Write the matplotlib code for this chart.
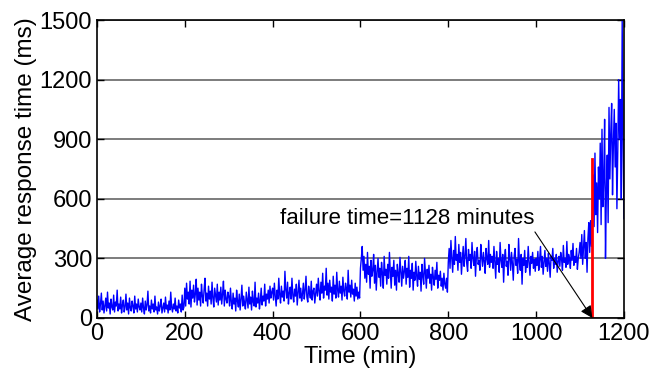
import numpy as np
import matplotlib.pyplot as plt

plt.rcParams['font.family'] = ['Liberation Sans', 'DejaVu Sans']

# average response time (ms), one value every 2 minutes
rt_0_100 = [90, 45, 110, 30, 70, 125, 40, 85, 25, 60,
            100, 35, 130, 50, 75, 20, 95, 55, 40, 115,
            30, 80, 60, 140, 35, 70, 45, 105, 25, 65,
            90, 30, 55, 120, 40, 75, 20, 100, 50, 35,
            85, 60, 25, 110, 45, 70, 30, 95, 55, 40]
rt_100_200 = [75, 30, 100, 50, 20, 85, 40, 65, 135, 35,
              60, 25, 90, 45, 70, 30, 110, 40, 55, 20,
              80, 35, 60, 95, 25, 50, 75, 30, 105, 45,
              65, 25, 85, 40, 130, 55, 30, 70, 45, 100,
              35, 60, 25, 90, 50, 70, 30, 115, 40, 55]
rt_200_300 = [150, 60, 175, 95, 130, 70, 185, 55, 140, 100,
              165, 80, 120, 195, 65, 150, 90, 130, 60, 170,
              110, 75, 145, 200, 85, 125, 60, 160, 95, 135,
              70, 180, 100, 55, 150, 115, 80, 170, 65, 130,
              90, 155, 70, 120, 185, 60, 140, 95, 75, 130]
rt_300_400 = [110, 60, 150, 80, 45, 125, 70, 100, 35, 140,
              85, 55, 120, 40, 95, 165, 60, 110, 75, 45,
              130, 90, 50, 155, 70, 105, 40, 135, 80, 60,
              180, 55, 100, 75, 125, 45, 90, 150, 65, 110,
              85, 170, 60, 120, 95, 140, 75, 160, 100, 130]
rt_400_500 = [150, 90, 175, 110, 60, 140, 95, 200, 120, 75,
              160, 105, 135, 85, 235, 140, 100, 180, 70, 125,
              155, 95, 200, 115, 80, 145, 110, 170, 65, 130,
              190, 100, 150, 85, 120, 175, 95, 140, 210, 105,
              80, 160, 125, 100, 185, 90, 135, 150, 75, 120]
rt_500_600 = [170, 110, 200, 135, 90, 180, 125, 225, 100, 160,
              140, 250, 115, 175, 95, 190, 130, 155, 85, 210,
              120, 165, 100, 230, 140, 105, 185, 125, 160, 90,
              205, 135, 110, 175, 150, 95, 240, 130, 165, 105,
              190, 120, 145, 85, 175, 110, 155, 95, 130, 100]
rt_600_700 = [250, 300, 360, 240, 310, 200, 270, 180, 330, 220,
              260, 150, 290, 210, 240, 320, 175, 265, 140, 230,
              300, 205, 250, 160, 280, 225, 150, 310, 215, 245,
              170, 270, 200, 330, 230, 150, 255, 210, 290, 165,
              240, 140, 270, 220, 180, 305, 230, 160, 260, 200]
rt_700_800 = [235, 290, 170, 250, 205, 310, 155, 240, 200, 275,
              140, 230, 190, 285, 215, 160, 260, 195, 230, 135,
              270, 210, 170, 300, 225, 150, 245, 200, 265, 175,
              220, 140, 255, 205, 165, 240, 195, 280, 150, 215,
              190, 235, 160, 200, 140, 225, 170, 150, 200, 130]
rt_800_900 = [280, 350, 250, 390, 300, 230, 340, 270, 410, 290,
              320, 240, 370, 280, 330, 220, 300, 360, 260, 310,
              400, 275, 235, 345, 290, 320, 250, 380, 300, 265,
              335, 210, 310, 355, 270, 290, 240, 370, 305, 260,
              330, 285, 225, 350, 300, 270, 390, 255, 320, 280]
rt_900_1000 = [310, 250, 360, 280, 200, 335, 270, 300, 230, 380,
               290, 255, 320, 180, 300, 345, 260, 285, 215, 370,
               300, 240, 330, 275, 190, 310, 350, 265, 295, 225,
               400, 280, 240, 320, 170, 300, 265, 340, 230, 290,
               255, 360, 280, 215, 310, 275, 330, 250, 295, 235]
rt_1000_1100 = [300, 265, 335, 240, 290, 360, 255, 310, 220, 280,
                340, 260, 300, 235, 325, 275, 205, 310, 290, 350,
                250, 300, 270, 320, 230, 285, 310, 260, 330, 295,
                240, 365, 280, 300, 255, 385, 270, 320, 300, 250,
                340, 290, 375, 265, 310, 280, 350, 245, 300, 330]
rt_1100_1200 = [380, 300, 420, 270, 350, 440, 300, 380, 230, 400,
                480, 330, 490, 360, 550, 720, 460, 830, 520, 680,
                430, 760, 600, 880, 470, 950, 560, 700, 1000, 300,
                640, 820, 480, 1060, 700, 930, 1080, 620, 880, 1050,
                760, 980, 550, 850, 1200, 900, 1100, 600, 1500, 900,
                500]

rt = (rt_0_100 + rt_100_200 + rt_200_300 + rt_300_400 + rt_400_500 + rt_500_600
      + rt_600_700 + rt_700_800 + rt_800_900 + rt_900_1000 + rt_1000_1100 + rt_1100_1200)
t = np.arange(len(rt)) * 2

failure_t = 1128
failure_top = 800

fig = plt.figure(figsize=(6.53, 3.71), dpi=100)
ax = fig.add_axes([0.1485, 0.143, 0.807, 0.803])
ax.plot(t, rt, color='blue', lw=1.0)
ax.plot([failure_t, failure_t], [0, failure_top], color='red', lw=2)

ax.annotate('failure time=1128 minutes', xy=(failure_t, 0), xytext=(417, 500),
            fontsize=16, va='center', ha='left',
            arrowprops=dict(arrowstyle='-|>', color='k', lw=0.8, shrinkA=0, shrinkB=0,
                            mutation_scale=18, relpos=(1.0, -0.1)))

ax.set_xlim(0, 1200)
ax.set_ylim(0, 1500)
ax.set_xticks(range(0, 1201, 200))
ax.set_yticks(range(0, 1501, 300))
ax.yaxis.grid(True, color='#666666', lw=1.2)
ax.set_axisbelow(True)
ax.tick_params(direction='in', top=True, right=True, labelsize=17, length=5, width=1)
for s in ax.spines.values():
    s.set_linewidth(1.2)
ax.set_xlabel('Time (min)', fontsize=17, labelpad=1)
ax.set_ylabel('Average response time (ms)', fontsize=17.5, labelpad=2)

fig.savefig('out.png', dpi=100)
